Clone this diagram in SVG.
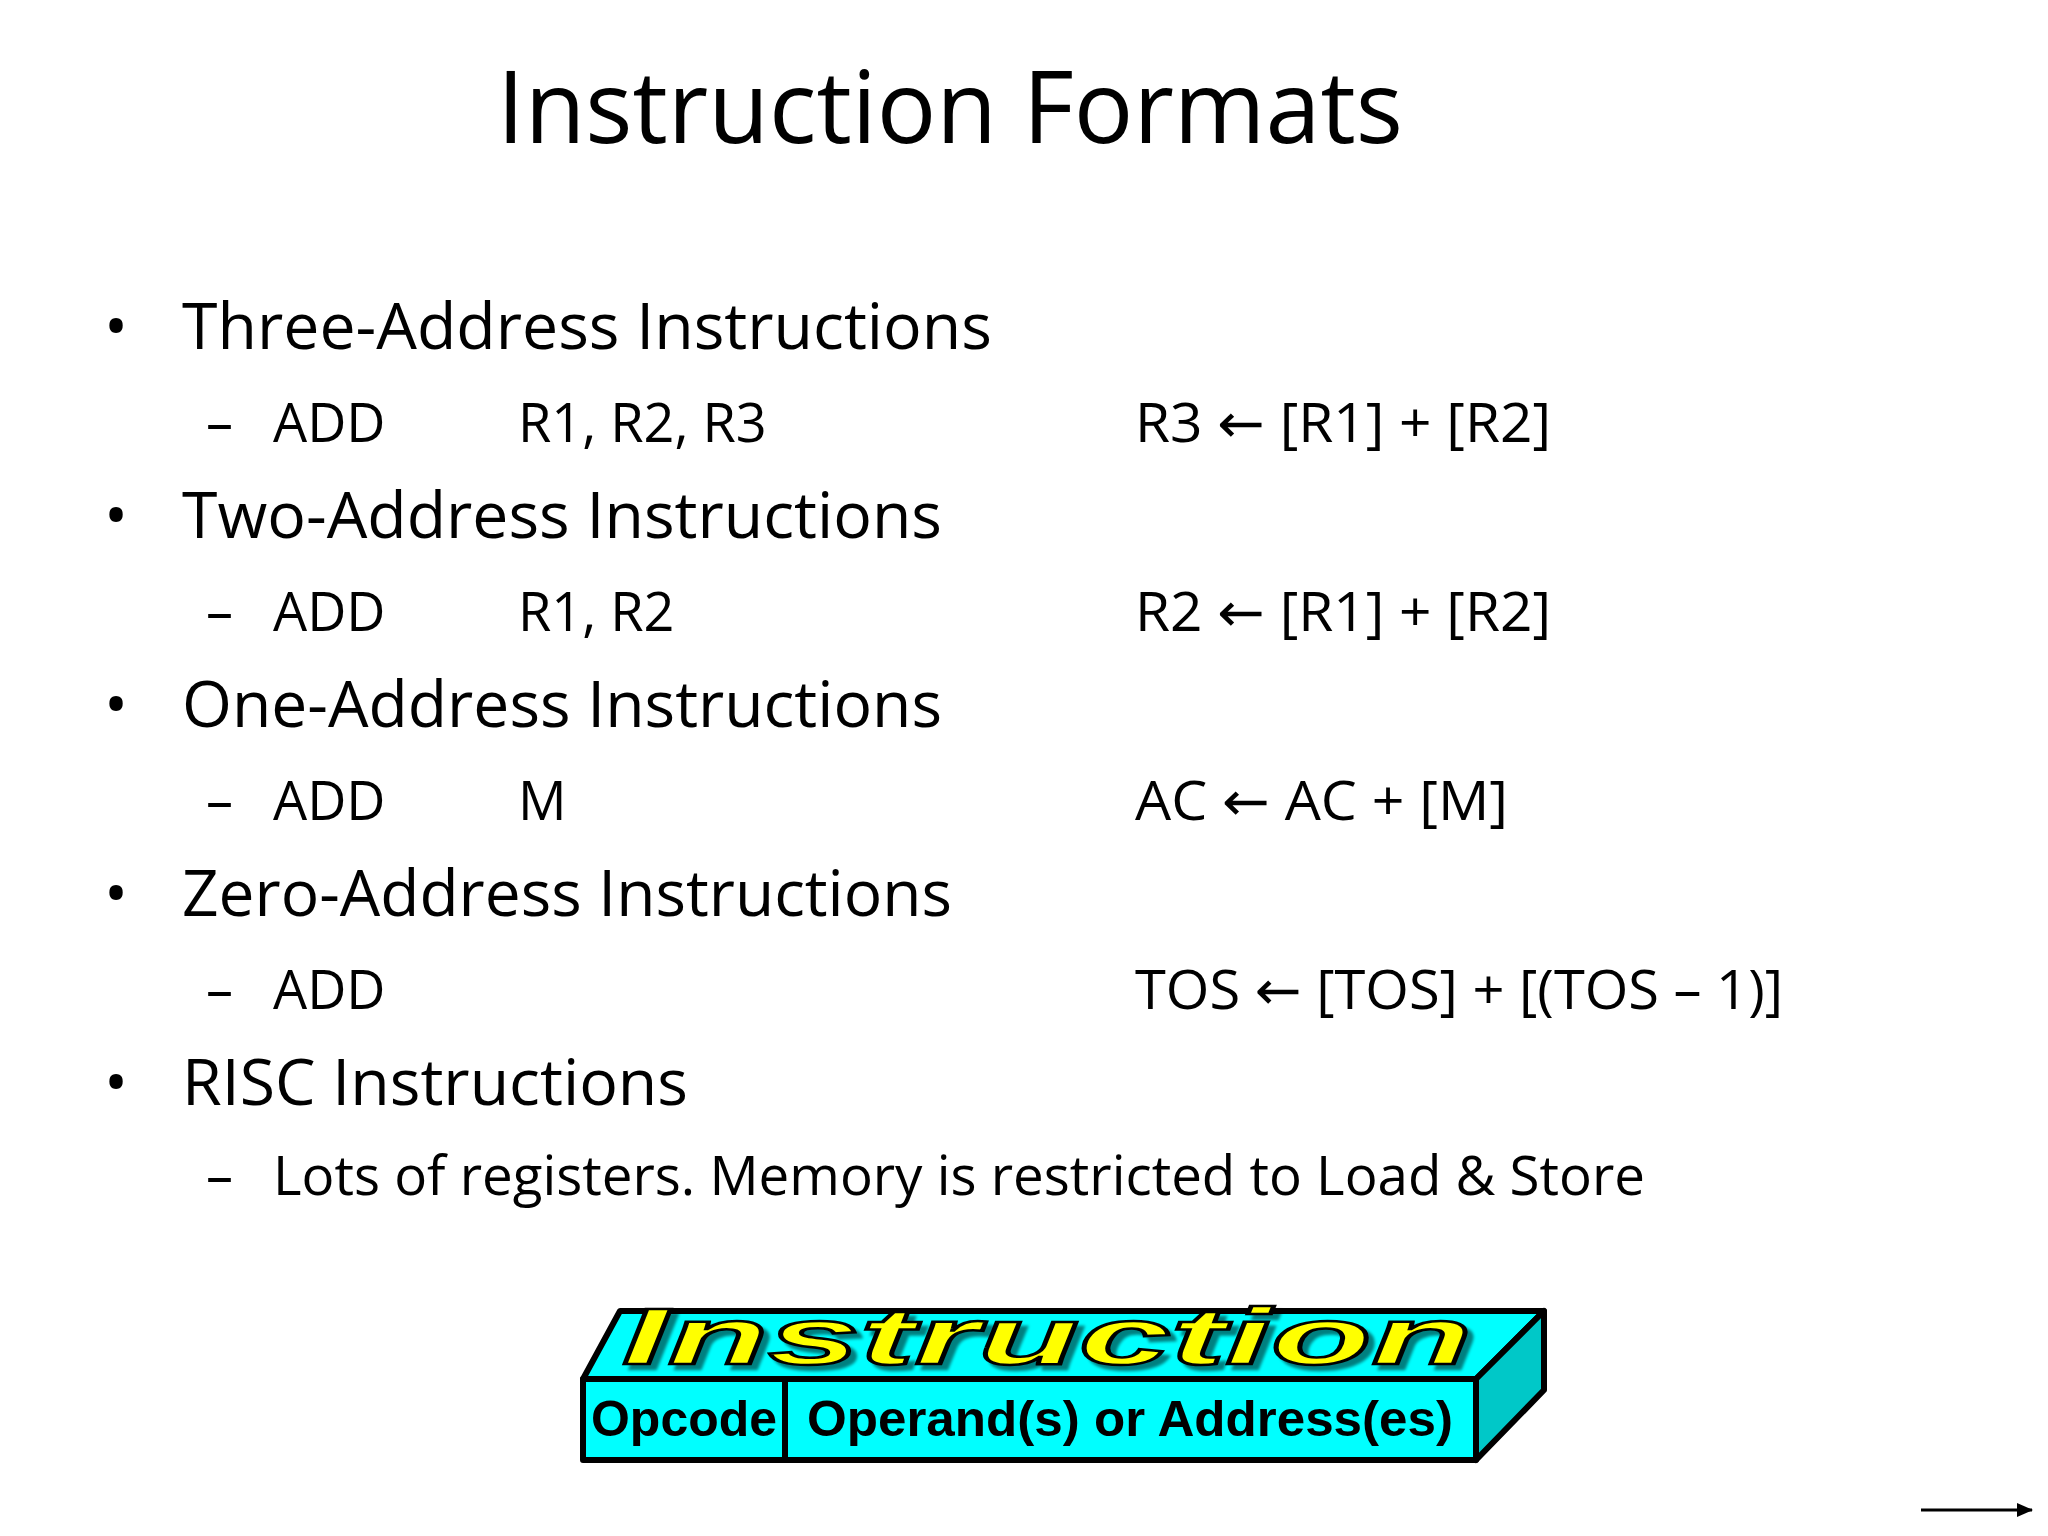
<svg xmlns="http://www.w3.org/2000/svg" width="2048" height="1536" viewBox="0 0 2048 1536">
<style>
.t{font-family:"Open Sans","Noto Sans",sans-serif;fill:#000}
.b{font-size:64px}
.s{font-size:54px}
.ar{font-family:"DejaVu Sans",sans-serif}
.bx{font-family:"Liberation Sans",Arial,sans-serif;font-weight:bold;font-size:50px}
</style>
<defs>
<marker id="ah" markerWidth="16" markerHeight="14" refX="15" refY="7" orient="auto" markerUnits="userSpaceOnUse" viewBox="0 0 16 14"><path d="M0,0L16,7L0,14z" fill="#000"/></marker>
<filter id="sh" x="-5%" y="-20%" width="110%" height="140%"><feGaussianBlur in="SourceAlpha" stdDeviation="1.5"/><feOffset dx="6" dy="5"/><feComponentTransfer><feFuncA type="linear" slope="0.5"/></feComponentTransfer><feMerge><feMergeNode/><feMergeNode in="SourceGraphic"/></feMerge></filter>
</defs>
<rect width="2048" height="1536" fill="#fff"/>
<text class="t" x="950" y="143" font-size="100" text-anchor="middle" textLength="906" lengthAdjust="spacingAndGlyphs">Instruction Formats</text>
<g id="list">
<text class="t b" x="104" y="349">•</text>
<text class="t b" x="182" y="349" textLength="810" lengthAdjust="spacingAndGlyphs">Three-Address Instructions</text>
<text class="t s" x="206" y="442">–</text><text class="t s" x="273" y="442">ADD</text><text class="t s" x="518" y="442">R1, R2, R3</text>
<text class="t s" x="1135" y="442" textLength="416" lengthAdjust="spacingAndGlyphs">R3 <tspan class="ar">←</tspan> [R1] + [R2]</text>
<text class="t b" x="104" y="538">•</text>
<text class="t b" x="182" y="538" textLength="760" lengthAdjust="spacingAndGlyphs">Two-Address Instructions</text>
<text class="t s" x="206" y="631">–</text><text class="t s" x="273" y="631">ADD</text><text class="t s" x="518" y="631">R1, R2</text>
<text class="t s" x="1135" y="631" textLength="416" lengthAdjust="spacingAndGlyphs">R2 <tspan class="ar">←</tspan> [R1] + [R2]</text>
<text class="t b" x="104" y="727">•</text>
<text class="t b" x="182" y="727" textLength="760" lengthAdjust="spacingAndGlyphs">One-Address Instructions</text>
<text class="t s" x="206" y="820">–</text><text class="t s" x="273" y="820">ADD</text><text class="t s" x="518" y="820">M</text>
<text class="t s" x="1135" y="820" textLength="373" lengthAdjust="spacingAndGlyphs">AC <tspan class="ar">←</tspan> AC + [M]</text>
<text class="t b" x="104" y="916">•</text>
<text class="t b" x="182" y="916" textLength="770" lengthAdjust="spacingAndGlyphs">Zero-Address Instructions</text>
<text class="t s" x="206" y="1009">–</text><text class="t s" x="273" y="1009">ADD</text>
<text class="t s" x="1135" y="1009" textLength="648" lengthAdjust="spacingAndGlyphs">TOS <tspan class="ar">←</tspan> [TOS] + [(TOS – 1)]</text>
<text class="t b" x="104" y="1105">•</text>
<text class="t b" x="182" y="1105" textLength="506" lengthAdjust="spacingAndGlyphs">RISC Instructions</text>
<text class="t s" x="206" y="1195">–</text>
<text class="t s" x="273" y="1195" textLength="1372" lengthAdjust="spacingAndGlyphs">Lots of registers. Memory is restricted to Load &amp; Store</text>
</g>
<g id="instruction-box" stroke="#000" stroke-width="6" stroke-linejoin="round">
<polygon points="583,1379 620,1311 1544,1311 1476,1379" fill="#00ffff"/>
<polygon points="1476,1379 1544,1311 1544,1390 1476,1460" fill="#00c8c8"/>
<rect x="583" y="1379" width="893" height="81" fill="#00ffff"/>
<line x1="785" y1="1379" x2="785" y2="1460"/>
</g>
<g id="labels">
<text x="622" y="1364" font-family="Liberation Sans,Arial,sans-serif" font-weight="bold" font-style="italic" font-size="80" fill="#ffff00" stroke="#000" stroke-width="2.5" filter="url(#sh)" textLength="850" lengthAdjust="spacingAndGlyphs">Instruction</text>
<text class="bx" x="591" y="1436" textLength="186" lengthAdjust="spacingAndGlyphs">Opcode</text>
<text class="bx" x="807" y="1436" textLength="646" lengthAdjust="spacingAndGlyphs">Operand(s) or Address(es)</text>
</g>
<g id="connectors">
<line x1="1921" y1="1510" x2="2032" y2="1510" stroke="#000" stroke-width="3" marker-end="url(#ah)"/>
</g>
</svg>
